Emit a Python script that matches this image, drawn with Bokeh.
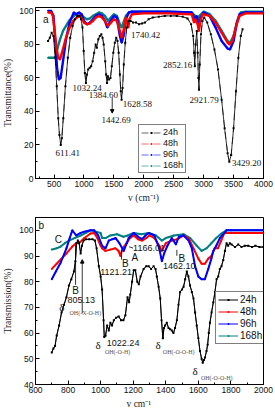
from bokeh.plotting import figure
from bokeh.layouts import column
from bokeh.models import (Label, Arrow, NormalHead, Legend, LegendItem,
                          SingleIntervalTicker)
from bokeh.embed import file_html
from bokeh.resources import INLINE

# ---------------- panel a: full spectrum ----------------
a_x_24h = [400, 430, 460, 490, 520, 545, 570, 590, 611.41, 630,
           655, 690, 730, 770, 810, 850, 890, 925, 950, 975,
           995, 1015, 1032.24, 1050, 1070, 1095, 1120, 1145, 1170, 1195,
           1215, 1240, 1265, 1290, 1310, 1330, 1355, 1370, 1384.60, 1400,
           1420, 1442.69, 1465, 1490, 1515, 1540, 1560, 1580, 1600, 1615,
           1628.58, 1645, 1665, 1690, 1715, 1745, 1780, 1820, 1870, 1920,
           1970, 2020, 2080, 2150, 2250, 2350, 2450, 2550, 2650, 2730,
           2790, 2825, 2840, 2852.16, 2865, 2885, 2900, 2912, 2921.79, 2935,
           2955, 2980, 3010, 3060, 3120, 3180, 3240, 3300, 3350, 3400,
           3429.20, 3460, 3500, 3540, 3580, 3620, 3650]
a_y_24h = [82, 84, 87, 85, 72, 55, 36, 26, 20, 24,
           36, 55, 72, 84, 91, 95, 97, 97, 95, 90,
           76, 63, 57, 62, 65, 66, 67, 70, 75, 80,
           78, 83, 85, 86, 84, 80, 70, 62, 57, 61,
           59, 60, 67, 75, 81, 84, 82, 75, 62, 52,
           47, 54, 68, 81, 90, 94, 94, 93, 93, 92,
           92.5, 93, 95, 96, 96.5, 97, 97, 97, 96.5, 95.5,
           92, 85, 75, 67, 80, 88, 75, 60, 53, 68,
           86, 94, 96, 93, 86, 77, 65, 47, 30, 15,
           10, 14, 30, 52, 72, 85, 89]

a_x_48h = [400, 450, 480, 510, 540, 570, 600, 640, 700, 760,
           820, 880, 930, 970, 1000, 1050, 1100, 1150, 1200, 1250,
           1300, 1350, 1400, 1450, 1500, 1550, 1600, 1630, 1660, 1700,
           1720, 1740.42, 1760, 1800, 2000, 2400, 2800, 2840, 2860, 2900,
           2920, 2940, 2980, 3100, 3200, 3300, 3400, 3430, 3480, 3550,
           3600, 3700, 4000]
a_y_48h = [99, 99, 97, 88, 78, 72, 71, 76, 84, 90,
           94, 96, 97, 95, 93, 92, 92.5, 94, 96, 97,
           96, 94, 91, 93, 95, 94, 88, 84, 88, 96,
           93, 90, 95, 98, 98.5, 98.5, 98, 93, 95, 92,
           88, 93, 98, 97, 93, 87, 81, 80, 82, 92,
           97, 98.5, 98.5]

a_x_96h = [400, 450, 490, 520, 550, 580, 610, 650, 700, 760,
           830, 870, 920, 960, 1000, 1050, 1100, 1150, 1200, 1250,
           1300, 1350, 1390, 1430, 1500, 1550, 1600, 1630, 1660, 1700,
           1750, 1800, 2400, 2800, 2840, 2860, 2885, 2920, 2950, 3000,
           3100, 3200, 3300, 3400, 3440, 3500, 3550, 3600, 3700, 4000]
a_y_96h = [100, 100, 97, 82, 66, 59, 60, 70, 83, 93,
           99, 98, 99, 98, 94, 92, 93, 95, 97, 98,
           97, 94, 90, 93, 97, 96, 85, 81, 85, 95,
           99, 99.5, 99.5, 99, 96, 94, 97, 90, 96, 99,
           97, 90, 82, 77.5, 77, 82, 92, 98, 99, 99]

a_x_168h = [400, 450, 500, 530, 560, 600, 650, 700, 750, 800,
            850, 900, 950, 1000, 1050, 1100, 1150, 1200, 1250, 1300,
            1350, 1400, 1450, 1500, 1550, 1600, 1630, 1660, 1700, 1750,
            1800, 2400, 2800, 2860, 2900, 2930, 3000, 3100, 3200, 3300,
            3400, 3440, 3500, 3560, 3620, 3700, 4000]
a_y_168h = [72, 72, 72, 73, 78, 83, 88, 91, 94, 96,
            97.5, 98.5, 98, 96, 95, 95.5, 97, 98, 99, 98.5,
            97, 94, 96, 98, 97, 92, 90, 93, 97, 99,
            99.5, 99.5, 99, 97, 95, 97, 99.5, 98, 94, 88,
            82, 81, 85, 94, 99, 99.5, 99.5]

# ---------------- panel b: 600-2000 cm-1 detail ----------------
b_x_24h = [700, 710, 720, 730, 745, 760, 775, 790, 805.13, 820,
           836, 845, 852, 860, 868, 877, 885, 895, 910, 930,
           950, 965, 975, 989, 1000, 1009, 1018, 1022.24, 1030, 1040,
           1050, 1060, 1070, 1081, 1095, 1111, 1125, 1140, 1152, 1165,
           1175, 1182, 1193, 1203, 1213, 1225, 1234, 1245, 1264, 1280,
           1295, 1310, 1325, 1337, 1345, 1356, 1366, 1374, 1382, 1389,
           1396, 1406, 1417, 1427, 1437, 1447, 1457, 1468, 1478, 1488,
           1500, 1509, 1519, 1529, 1539, 1549, 1560, 1570, 1580, 1590,
           1600, 1610, 1620, 1627, 1634, 1641, 1650, 1657, 1664, 1671,
           1681, 1692, 1702, 1712, 1722, 1732, 1742, 1753, 1763, 1773,
           1783, 1793, 1804, 1825, 1845, 1865, 1885, 1906, 1930, 1950,
           1975, 2000]
b_y_24h = [52.5, 54, 55, 59, 63, 68, 71, 74, 78.5, 81,
           84, 88, 95, 96, 95, 91, 94, 96, 96.5, 96.5,
           96.5, 96, 93, 86, 82, 77, 65, 58.5, 59, 63,
           61, 64, 63, 65, 66, 66.5, 65, 65, 67, 74,
           72, 75, 80, 84.5, 84.5, 80, 79, 82, 85, 86,
           86, 85, 86, 85, 82, 78, 73.5, 65, 58, 62,
           63, 64, 62, 61.5, 61, 60, 62, 65, 71, 76,
           77, 78, 81, 84, 82, 78.5, 76, 73.5, 68, 63,
           58, 53, 50, 48.5, 49.5, 50.5, 53, 55.5, 60, 64,
           68, 72, 76, 81, 82, 85, 86, 88.5, 92, 95,
           94, 95, 94.5, 93.5, 94.5, 93.5, 94, 94, 93.5, 94,
           93.5, 93.5]

b_x_48h = [700, 730, 755, 790, 826, 850, 877, 900, 938, 960,
           980, 1000, 1009, 1030, 1060, 1090, 1110, 1121.21, 1135, 1160,
           1180, 1203, 1230, 1254, 1280, 1300, 1330, 1360, 1376, 1400,
           1437, 1470, 1509, 1540, 1570, 1600, 1620, 1640, 1661, 1680,
           1700, 1720, 1740, 1760, 1800, 2000]
b_y_48h = [85, 87, 88.7, 91, 93.7, 95, 95.6, 97, 98.8, 99,
           97, 94, 93, 92, 92.5, 93, 92, 90, 93, 95,
           97, 98, 96.5, 96, 97, 98, 97, 94, 92, 95,
           96, 96.5, 98, 97, 93, 89, 87, 87, 89, 90,
           93, 93, 96, 99, 99, 99]

b_x_96h = [700, 725, 755, 790, 810, 826, 850, 877, 900, 938,
           960, 985, 1009, 1030, 1050, 1070, 1092, 1115, 1142, 1160,
           1172, 1203, 1230, 1254, 1275, 1295, 1330, 1360, 1376, 1390,
           1410, 1437, 1462.10, 1480, 1509, 1540, 1560, 1580, 1600, 1620,
           1640, 1661, 1680, 1692, 1710, 1732, 1773, 1800, 2000]
b_y_96h = [81, 84, 87.5, 93, 97, 100, 98, 99, 99.5, 100,
           100, 98, 94, 93, 96, 96.5, 97, 95, 92, 95,
           97, 99, 97.5, 96.6, 98, 99, 98, 93, 88, 91,
           94, 97, 94.5, 97.5, 98, 96, 93, 86, 82, 81,
           81, 85, 89, 92, 94, 97, 100, 100, 100]

b_x_168h = [700, 730, 755, 780, 806, 840, 877, 910, 938, 970,
            1000, 1009, 1030, 1060, 1100, 1140, 1166.01, 1203, 1250, 1295,
            1340, 1376, 1400, 1450, 1509, 1550, 1590, 1620, 1650, 1680,
            1710, 1740, 1773, 1800, 2000]
b_y_168h = [92.5, 93, 93.7, 95, 96, 97, 98, 99, 100, 99.5,
            99, 97, 97, 98, 98.5, 97.5, 98, 99, 98.5, 99,
            98, 96, 97, 98, 98.5, 97, 94, 92, 93, 95,
            97, 98.7, 100, 100, 100]

series_names = ["24h", "48h", "96h", "168h"]
series_colors = ["#000000", "#ff0000", "#0000ff", "#008080"]

SANS = "Liberation Sans"
SERIF = "Liberation Serif"


def make_fig(height, x_range, y_range, x_int, y_int, border_top, border_bottom,
             x_label, y_label):
    p = figure(width=275, height=height, x_range=x_range, y_range=y_range,
               output_backend="svg", toolbar_location=None,
               min_border_left=34, min_border_right=12,
               min_border_top=border_top, min_border_bottom=border_bottom)
    p.background_fill_color = "white"
    p.border_fill_color = "white"
    p.outline_line_color = "black"
    p.outline_line_width = 1
    p.outline_line_alpha = 1
    p.xgrid.visible = False
    p.ygrid.visible = False
    p.xaxis.ticker = SingleIntervalTicker(interval=x_int, num_minor_ticks=2)
    p.yaxis.ticker = SingleIntervalTicker(interval=y_int, num_minor_ticks=2)
    for ax in (p.xaxis[0], p.yaxis[0]):
        ax.axis_line_color = "black"
        ax.major_tick_in = 4
        ax.major_tick_out = 0
        ax.minor_tick_in = 2
        ax.minor_tick_out = 0
        ax.major_tick_line_color = "black"
        ax.minor_tick_line_color = "black"
        ax.major_label_text_font = SANS
        ax.major_label_text_font_size = "8.5px"
        ax.major_label_text_color = "#111111"
        ax.major_label_standoff = 2
        ax.axis_label_text_font = SERIF
        ax.axis_label_text_font_style = "normal"
        ax.axis_label_text_font_size = "9.5px"
        ax.axis_label_text_color = "#222222"
        ax.axis_label_standoff = 3
    p.xaxis.axis_label = x_label
    p.yaxis.axis_label = y_label
    return p


def lbl(p, x, y, text, size="9px", font=SERIF, align="center", color="#111111"):
    p.add_layout(Label(x=x, y=y, text=text, text_font=font, text_font_size=size,
                       text_align=align, text_baseline="middle", text_color=color))


def arrow(p, x0, y0, x1, y1):
    p.add_layout(Arrow(end=NormalHead(size=3.5, fill_color="black", line_color="black"),
                       x_start=x0, y_start=y0, x_end=x1, y_end=y1,
                       line_color="black", line_width=0.8))


def draw_series(p, xs, ys, col, is_black, lw, key_dash, key_alpha):
    # thin key line drawn first (hidden under the series); it supplies the legend sample
    key = p.line(xs, ys, line_color=col, line_width=1, line_dash=key_dash,
                 line_alpha=key_alpha)
    if is_black:
        p.line(xs, ys, line_color=col, line_width=0.8)
        sc = p.scatter(xs, ys, marker="square", size=2, fill_color=col,
                       line_color=None)
    else:
        p.line(xs, ys, line_color=col, line_width=lw)
        sc = p.scatter(xs, ys, marker="circle", size=2, fill_color=col,
                       line_color=None)
    return [key, sc]


# ---------------- draw panel a ----------------
top = make_fig(205, (190, 4000), (0, 102), 500, 20, 7, 27,
               "v      (cm\u207b\u00b9)", "Transmittance(%)")

a_data = [(a_x_24h, a_y_24h), (a_x_48h, a_y_48h), (a_x_96h, a_y_96h), (a_x_168h, a_y_168h)]
top_pairs = {}
for i in [3, 2, 1, 0]:
    xs, ys = a_data[i]
    top_pairs[i] = draw_series(top, xs, ys, series_colors[i], i == 0, 2.4, "7 5", 0.6)

top_items = [LegendItem(label=series_names[i], renderers=top_pairs[i]) for i in range(4)]
top_leg = Legend(items=top_items, location=(103, 5))
top.add_layout(top_leg)

lbl(top, 316, 95, "a", size="10px", font=SANS, align="left")
lbl(top, 729, 15, "611.41")
lbl(top, 1051, 54, "1032.24")
lbl(top, 1323, 50, "1384.60")
lbl(top, 1538, 35, "1442.69")
arrow(top, 1472, 48, 1472, 39)
lbl(top, 1893, 44.6, "1628.58")
lbl(top, 2030, 85.7, "1740.42")
lbl(top, 2563, 68, "2852.16")
lbl(top, 3008, 47, "2921.79")
lbl(top, 3719, 9, "3429.20")

# ---------------- draw panel b ----------------
bot = make_fig(206, (600, 2000), (40, 105), 200, 10, 12, 23,
               "v          cm\u207b\u00b9", "Transmission(%)")

b_data = [(b_x_24h, b_y_24h), (b_x_48h, b_y_48h), (b_x_96h, b_y_96h), (b_x_168h, b_y_168h)]
bot_pairs = {}
for i in [3, 1, 2, 0]:
    xs, ys = b_data[i]
    bot_pairs[i] = draw_series(bot, xs, ys, series_colors[i], i == 0, 2, "solid", 1.0)

bot_items = [LegendItem(label=series_names[i], renderers=bot_pairs[i]) for i in range(4)]
bot_leg = Legend(items=bot_items, location=(180, 40))
bot.add_layout(bot_leg)

for leg, fs in ((top_leg, "9px"), (bot_leg, "10px")):
    leg.border_line_color = "black"
    leg.border_line_width = 1
    leg.background_fill_color = "white"
    leg.background_fill_alpha = 1
    leg.label_text_font = SANS
    leg.label_text_font_size = fs
    leg.label_text_color = "#111111"
    leg.glyph_width = 20
    leg.glyph_height = 5
    leg.label_height = 9
    leg.label_standoff = 2
    leg.spacing = 1
    leg.padding = 2
    leg.margin = 0

lbl(bot, 618, 101.9, "b", size="10px", font=SANS, align="left")
lbl(bot, 741, 96.5, "C", size="10px", font=SANS)
lbl(bot, 846, 76.6, "B", size="10px", font=SANS)
bot.segment(x0=[846], y0=[78.8], x1=[846], y1=[94.3], line_color="black", line_width=0.8)
lbl(bot, 881, 72.8, "805.13", size="9px", font=SANS)
arrow(bot, 887, 67.7, 887, 88.6)
lbl(bot, 761, 70.3, "\u03b4", size="11px")
lbl(bot, 906, 67.7, "OH(-X-O-H)", size="6px", color="#555555")
lbl(bot, 1152, 87, "B", size="10px", font=SANS)
bot.segment(x0=[1128], y0=[88.6], x1=[1128], y1=[92.4], line_color="black", line_width=0.8)
lbl(bot, 1095, 83.6, "1121.21", size="9px", font=SANS)
lbl(bot, 1210, 89.3, "A", size="10px", font=SANS)
bot.segment(x0=[1199], y0=[93.1], x1=[1175], y1=[93.6], line_color="black", line_width=0.8)
lbl(bot, 1199, 93.1, "1166.01", size="9px", font=SANS, align="left")
lbl(bot, 1499, 89.2, "B", size="10px", font=SANS)
bot.segment(x0=[1468], y0=[90.1], x1=[1468], y1=[92.4], line_color="black", line_width=0.8)
lbl(bot, 1483, 86, "1462.10", size="9px", font=SANS)
lbl(bot, 985, 55.5, "\u03b4", size="11px")
lbl(bot, 1138, 56, "1022.24", size="9px", font=SANS)
lbl(bot, 1104, 52.8, "OH(-O-H)", size="6px", color="#555555")
lbl(bot, 1352, 55.5, "\u03b4", size="11px")
lbl(bot, 1479, 52.8, "OH(-O-O-H)", size="6px", color="#555555")
lbl(bot, 1580, 45.2, "\u03b4", size="11px")
lbl(bot, 1713, 42.4, "OH(-O-O-H)", size="6px", color="#555555")

page = column(top, bot, spacing=0)
open("out.html", "w").write(file_html(page, INLINE))
